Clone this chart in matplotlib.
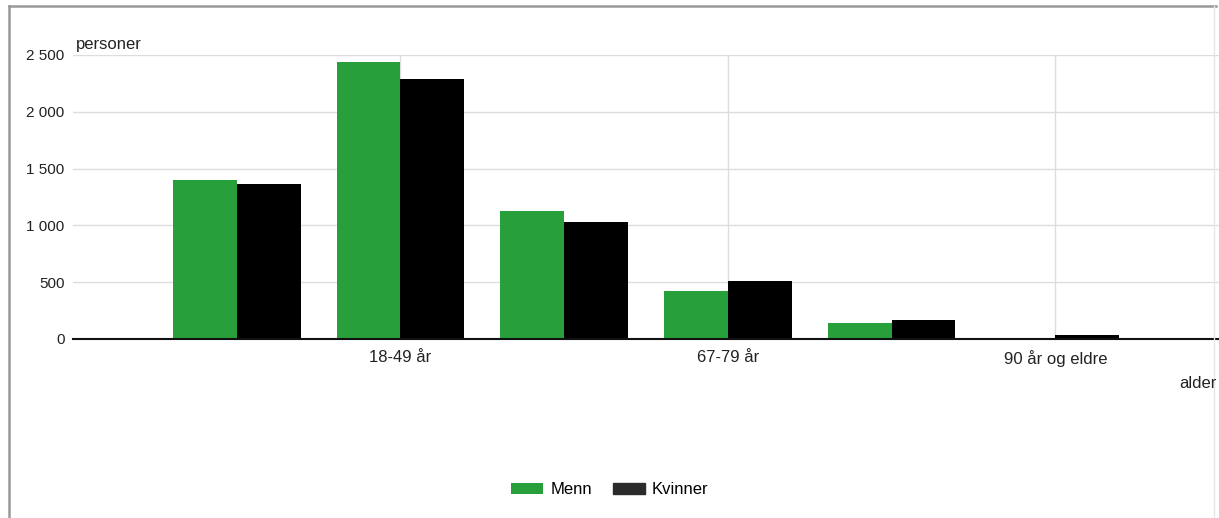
import matplotlib.pyplot as plt
import numpy as np
from matplotlib.lines import Line2D

# aldersgrupper og antall personer
aldersgrupper = ['0-17 år', '18-49 år', '50-66 år', '67-79 år', '80-89 år', '90 år og eldre']
menn = [1400, 2440, 1128, 425, 145, 12]
kvinner = [1365, 2285, 1033, 513, 168, 35]
yticks = [0, 500, 1000, 1500, 2000, 2500]

gronn = '#27a03b'
svart = '#000000'

plt.rcParams['font.family'] = ['Liberation Sans', 'DejaVu Sans']

W, H = 1219, 518
fig = plt.figure(figsize=(W / 100, H / 100), dpi=100)
ax = fig.add_axes([73 / W, 1 - 339 / H, (1219 - 73) / W, (339 - 55) / H])

x = np.arange(len(aldersgrupper))
b = 0.39
ax.bar(x - b / 2, menn, width=b, color=gronn, label='Menn', zorder=2)
ax.bar(x + b / 2, kvinner, width=b, color=svart, label='Kvinner', zorder=2)

ax.set_xlim(-1, 6)
ax.set_ylim(0, 2500)

# bare annenhver kategori får etikett
vis = [1, 3, 5]
ax.set_xticks(vis)
ax.set_xticklabels([aldersgrupper[i] for i in vis], fontsize=12, color='#222222')
ax.set_yticks(yticks)
ax.set_yticklabels([f'{v:,}'.replace(',', ' ') for v in yticks], fontsize=11, color='#222222')
ax.tick_params(length=0, pad=6)
ax.tick_params(axis='x', pad=8)

ax.grid(True, color='#dddddd', linewidth=1, zorder=0)
ax.set_axisbelow(True)
for s in ['top', 'right', 'left']:
    ax.spines[s].set_visible(False)
ax.spines['bottom'].set_color('#111111')
ax.spines['bottom'].set_linewidth(1.5)
ax.spines['bottom'].set_zorder(3)

fig.text(76 / W, 1 - 44 / H, 'personer', fontsize=12, color='#222222', va='center', ha='left')
fig.text(1217 / W, 1 - 384 / H, 'alder', fontsize=12, color='#222222', va='center', ha='right')

leg = fig.legend(loc='center', bbox_to_anchor=(610 / W, 1 - 490 / H), ncol=2, frameon=False,
                 fontsize=12, handlelength=1.92, handleheight=0.66, handletextpad=0.42,
                 columnspacing=1.26)
leg.legend_handles[1].set_color('#2b2b2b')

# ramme rundt figuren
fig.add_artist(Line2D([9 / W, 1216 / W], [1 - 6 / H, 1 - 6 / H], color='#999999', lw=1.8,
                      transform=fig.transFigure))
fig.add_artist(Line2D([9 / W, 9 / W], [0, 1 - 6 / H], color='#999999', lw=1.8,
                      transform=fig.transFigure))
fig.add_artist(Line2D([1214 / W, 1214 / W], [0, 1 - 6 / H], color='#e6e6e6', lw=1,
                      transform=fig.transFigure))

fig.savefig('out.png', dpi=100)
